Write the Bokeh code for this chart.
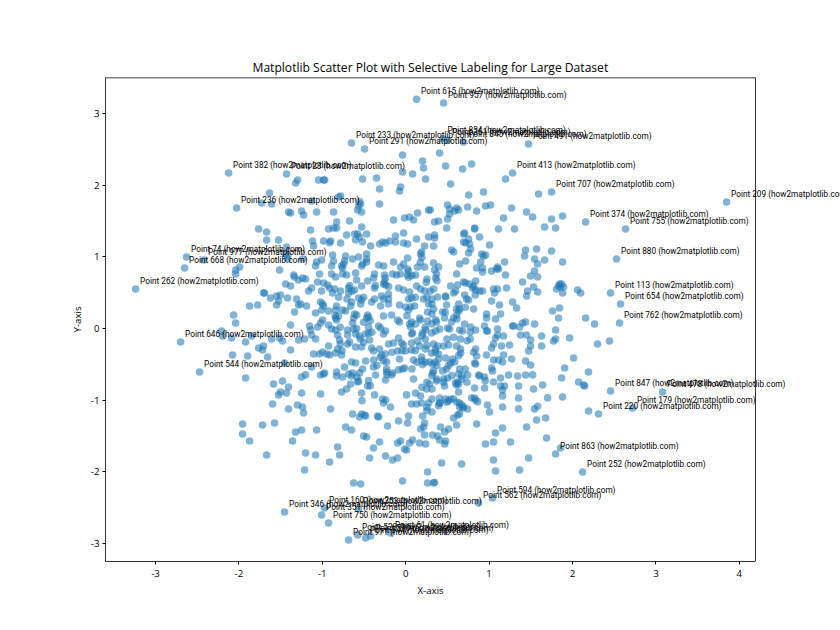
from bokeh.plotting import figure
from bokeh.models import ColumnDataSource, FixedTicker, Span, Title
from bokeh.core.properties import value
from bokeh.embed import file_html
from bokeh.resources import INLINE

TITLE = "Matplotlib Scatter Plot with Selective Labeling for Large Dataset"
X_LABEL = "X-axis"
Y_LABEL = "Y-axis"
X_TICKS = [-3, -2, -1, 0, 1, 2, 3, 4]
Y_TICKS = [-3, -2, -1, 0, 1, 2, 3]

label_ids = [615, 957, 834, 361, 845, 491, 233, 291, 382, 23, 236, 413, 707, 209, 374, 755, 880, 74, 977, 668, 262, 113,
             654, 762, 646, 544, 847, 478, 179, 220, 863, 252, 594, 562, 160, 346, 351, 353, 750, 528, 971, 344, 590, 61]
label_x = [.13, .454, .446, .502, .694, 1.473, -.65, -.494, -2.124, -1.429, -2.028, 1.281, 1.749, 3.847, 2.157, 2.636, 2.528,
           -2.628, -2.424, -2.652, -3.239, 2.456, 2.576, 2.564, -2.70, -2.472, 2.456, 3.079, 2.72, 2.312, 1.797, 2.121, 1.041,
           .873, -.973, -1.453, -1.009, -.565, -.925, -.577, -.685, -.481, -.421, -.182]
label_y = [3.20, 3.148, 2.651, 2.628, 2.604, 2.576, 2.59, 2.507, 2.172, 2.158, 1.683, 2.172, 1.907, 1.767, 1.488, 1.39, .972,
           1.0, .958, .847, .554, .498, .344, .079, -.186, -.605, -.87, -.884, -1.107, -1.191, -1.749, -2.0, -2.363, -2.432,
           -2.503, -2.558, -2.6, -2.517, -2.712, -2.879, -2.949, -2.921, -2.893, -2.851]

upper_left = [(-.038,2.423),(.202,2.339),(.214,2.241),(-.038,2.186),(.082,2.158),(-1.297,2.074),(-1.321,2.032),(-1.045,2.074),
(-.985,2.074),(-.973,2.074),(-.517,2.088),(-.35,2.102),(.238,2.088),(-.314,1.949),(-.062,1.976),(-.074,1.921),(-1.633,1.893),
(-.781,1.851),(-.805,1.837),(-1.728,1.753),(-1.609,1.739),(-1.129,1.781),(-.553,1.772),(-.541,1.739),(-.565,1.711),(-.314,1.739),
(-.577,1.655),(-.529,1.628),(.274,1.655),(-1.405,1.628),(-1.381,1.614),(-1.249,1.642),(-1.225,1.586),(-1.069,1.628),(-.865,1.628),
(.142,1.614),(.046,1.558),(-.014,1.544),(.094,1.516),(-.146,1.516),(-.673,1.502),(-.829,1.488),(-.529,1.418),(-.829,1.404),
(-.865,1.404),(-.925,1.39),(-1.141,1.376),(-1.764,1.39),(-1.668,1.349),(-1.668,1.237),(-1.525,1.237),(-1.117,1.223),(-.985,1.223),
(-.901,1.223),(-.913,1.2),(-.781,1.195),(-.709,1.307),(-.613,1.321),(-.577,1.321),(-.553,1.279),(-.469,1.321),(-.601,1.237),
(-.517,1.209),(-.026,1.335),(-.122,1.293),(-.194,1.223),(-.278,1.209),(-.242,1.195),(-.314,1.181),(-.122,1.209),(.13,1.251),
(.274,1.279),(-.026,1.195),(.022,1.181),(.226,1.153),(-1.429,1.139),(-1.105,1.153),(-.421,1.153)]

upper_right = [(.406,2.451),(.478,2.269),(.682,2.228),(.79,2.297),(1.197,2.088),(.538,2.018),(.754,1.865),(.933,1.907),(1.593,1.879),
(.502,1.725),(.526,1.669),(.61,1.683),(.634,1.655),(.586,1.642),(.742,1.697),(.85,1.642),(.957,1.711),(1.017,1.725),(1.269,1.683),
(1.449,1.628),(1.521,1.558),(1.881,1.572),(1.749,1.53),(.526,1.6),(.502,1.53),(.394,1.502),(.346,1.488),(1.173,1.544),(1.665,1.418),
(1.797,1.404),(1.305,1.39),(1.113,1.39),(.49,1.404),(.826,1.404),(.826,1.39),(.694,1.321),(.706,1.335),(.886,1.279),(.754,1.251),
(.694,1.209),(.718,1.195),(.766,1.181),(1.005,1.167),(.346,1.307),(.346,1.265),(.334,1.153),(.294,1.655)]

middle_right = [(1.437,1.098),(1.569,1.112),(1.749,1.084),(1.425,1.014),(1.545,.972),(1.665,.958),(1.881,.93),(1.581,.902),(1.185,.93),
(.778,1.112),(.754,1.056),(.55,1.098),(.574,1.07),(.91,1.042),(.933,1.014),(.957,1.028),(.718,.944),(.646,.902),(.898,.93),(.85,.847),
(.921,.847),(.921,.791),(1.029,.805),(1.101,.861),(1.089,.833),(1.113,.833),(1.197,.749),(.61,.763),(.334,.916),(.394,.861),(.346,.819),
(.37,.763),(.358,.707),(1.545,.805),(1.497,.735),(1.581,.721),(1.401,.651),(1.533,.581),(1.461,.526),(1.581,.512),(1.449,.456),(1.209,.568),
(1.053,.554),(1.101,.554),(1.065,.498),(.538,.595),(.622,.61),(.694,.651),(.718,.637),(.766,.623),(.838,.665),(.814,.595),(.802,.568),
(.838,.54),(.886,.526),(.921,.526),(.598,.526),(.574,.498),(.334,.554),(.294,.526),(.382,.442),(.478,.456),(.478,.442),(.706,.47),(.73,.414),
(.754,.4),(1.029,.386),(1.125,.33),(1.281,.372),(1.329,.288),(1.761,.247),(1.845,.288),(1.833,.149),(2.157,.149),(2.264,.065),(2.061,.54),
(2.097,.498),(1.809,.554),(1.845,.623),(1.869,.623),(1.833,.595),(1.857,.581),(1.893,.581),(1.881,.498),(.49,.33),(.634,.344),(.61,.274),
(.646,.274),(.634,.247),(.814,.274),(.442,.233),(.466,.149),(.334,.274),(.314,.344),(.314,.205),(.358,.121),(.37,.093),(.574,.149),(.61,.19),
(.55,.093),(.969,.205),(.969,.149),(1.077,.135),(1.137,.205),(.945,.037),(.706,.065),(.778,.023),(.838,-.019),(.682,-.032),(.646,-.019),
(.502,.009),(.526,-.005),(.406,-.005),(.358,-.032),(.31,-.06),(1.101,-.005),(.969,-.032),(.981,-.032),(1.101,-.088),(1.173,-.102),(1.077,-.13),
(1.245,-.228),(1.149,-.242),(1.053,-.214),(1.029,-.27),(1.281,.037),(1.293,.037),(1.365,.023),(1.401,.079),(1.437,.093),(1.545,.065),
(1.377,-.088),(1.449,-.088),(1.497,-.158),(1.497,-.242),(1.629,-.102),(1.629,-.242),(1.473,-.312),(1.797,-.019),(1.797,-.144),(1.773,-.172),
(1.965,-.13),(2.3,-.214),(2.444,-.172),(2.013,-.409),(1.905,-.549),(2.192,-.605),(1.869,-.688),(2.073,-.744),(2.133,-.786),(2.145,-.8),
(1.881,-.953),(1.641,-.786),(1.533,-.842),(1.701,-.967),(1.353,-.967),(1.353,-.8),(1.341,-.66),(1.437,-.646),(1.521,-.646),(1.233,-.646),
(1.137,-.688),(1.053,-.744),(1.137,-.8),(1.185,-.8),(1.161,-.856),(1.161,-.939),(.826,-.828),(.945,-.828),(1.029,-.549),(1.041,-.59),
(.874,-.646),(.886,-.66),(.945,-.674),(.826,-.479),(.838,-.493),(.85,-.381),(.969,-.367),(1.053,-.437),(1.113,-.437),(1.173,-.367),
(1.161,-.465),(1.269,-.423),(1.437,-.451),(1.497,-.507),(.838,-.284),(.658,-.284),(.658,-.339),(.61,-.242),(.514,-.228),(.454,-.242),
(.382,-.242),(.334,-.214),(.358,-.284),(.31,-.339),(.394,-.423),(.478,-.409),(.562,-.423),(.538,-.479),(.586,-.465),(.49,-.563),(.442,-.59),
(.322,-.493),(.322,-.618),(.334,-.59),(.454,-.702),(.502,-.688),(.37,-.702),(.646,-.563),(.742,-.646),(.67,-.702),(.622,-.744),(.598,-.758),
(.61,-.786),(.634,-.772),(.466,-.8),(.634,-.884),(.37,-.73),(.406,-.967),(.478,-.981),(.538,-.981),(.514,-1.009),(.406,-1.037),(.79,-.967),
(.826,-.967),(.838,-.995),(.646,-1.037),(.67,-1.065),(.694,-1.093),(.981,-1.065),(1.161,-1.093),(1.353,-1.12),(1.545,-1.12),(1.581,-1.084)]

middle_left = [(-1.992,.861),(-2.04,.819),(-2.04,.763),(-1.513,.819),(-1.417,1.014),(-1.441,1.042),(-1.417,.972),(-1.237,.972),(-1.345,.749),
(-1.333,.721),(-1.285,.679),(-1.237,.707),(-1.201,.693),(-1.441,.623),(-1.381,.595),(-1.165,.526),(-1.129,.568),(-1.057,.651),(-1.033,.763),
(-1.081,.874),(-1.069,.93),(-1.009,.958),(-.877,1.028),(-.865,.944),(-.889,.874),(-.889,.763),(-.841,.721),(-.757,.847),(-.733,.944),
(-.721,1.014),(-.769,.874),(-.745,.902),(-.757,.763),(-.709,.749),(-.637,.972),(-.565,1.0),(-.469,1.042),(-.469,.972),(-.517,.902),
(-.529,.874),(-.469,.93),(-.325,.888),(-.265,.874),(-.146,.93),(-.026,.902),(-.062,.861),(.022,.833),(.142,.861),(.226,.861),(.178,1.042),
(.19,1.07),(.022,.986),(-.457,.665),(-.589,.679),(-.601,.777),(-.374,.763),(-.254,.749),(-.158,.763),(-.11,.749),(-.062,.763),(.022,.749),
(.118,.749),(-.386,.707),(-.254,.651),(-.266,.623),(-.242,.609),(-.985,.637),(-.937,.609),(-.913,.568),(-.853,.554),(-1.009,.526),(-.877,.498),
(-.781,.526),(-.685,.568),(-.685,.498),(-.613,.54),(-.529,.595),(-.374,.568),(-.086,.568),(-.026,.54),(.13,.595),(.178,.554),(.226,.526),
(.046,.512),(-.206,.484),(-.29,.456),(-1.705,.498),(-1.693,.498),(-1.621,.428),(-1.549,.456),(-1.501,.47),(-1.417,.428),(-1.525,.386),
(-1.549,.33),(-1.309,.414),(-1.261,.344),(-1.285,.33),(-1.189,.316),(-1.333,.233),(-1.872,.316),(-1.776,.33),(-2.064,.191),(-2.04,.079),
(-2.208,-.032),(-2.196,-.102),(-2.088,-.13),(-1.92,-.186),(-1.848,-.102),(-1.609,-.144),(-1.513,-.13),(-1.477,-.172),(-1.285,-.158),
(-1.213,-.144),(-1.381,.051),(-1.153,.037),(-1.141,-.019),(-1.057,.023),(-.997,.121),(-1.021,.079),(-.925,.051),(-.841,-.019),(-.889,-.005),
(-1.081,.219),(-1.009,.261),(-.925,.247),(-.841,.261),(-.841,.149),(-.805,.177),(-.829,.121),(-.697,-.019),(-.697,-.088),(-.817,-.088),
(-1.081,-.144),(-1.129,-.088),(-.997,.344),(-1.021,.372),(-.985,.316),(-.829,.316),(-.757,.261),(-.721,.247),(-.661,.316),(-.613,.205),
(-.625,.149),(-.637,.079),(-.589,0.0),(-.601,-.074),(-.553,-.102),(-.481,-.074),(-.433,-.158),(-.673,-.186),(-.697,-.214),(-.793,-.158),
(-.817,-.284),(-.769,-.367),(-.841,-.339),(-.925,-.242),(-.997,-.326),(-1.105,-.353),(-1.033,-.353),(-.913,-.367),(-.601,-.256),(-.529,-.256),
(-.409,-.27),(-.314,-.284),(-.386,-.312),(-.29,-.367),(-.206,-.214),(-.146,-.2),(-.086,-.13),(-.05,-.2),(-.026,-.228),(.07,-.2),(.142,-.172),
(-.098,-.312),(-.002,-.312),(.07,-.297),(.166,-.242),(.238,-.284),(.19,-.395),(.094,-.437),(-.074,-.423),(-.23,-.465),(-.386,-.437),
(-.481,-.451),(-.65,-.465),(-.601,-.479),(-.733,-.535),(-.517,-.563),(-.637,-.618),(-.553,-.618),(-.829,-.605),(-.829,-.66),(-.757,-.674),
(-.65,-.66),(-.985,-.632),(-1.021,-.646),(-.973,-.618),(-1.201,-.646),(-1.249,-.674),(-1.129,-.535),(-1.453,-.479),(-1.656,-.395),(-1.896,-.381),
(-2.076,-.367),(-1.764,-.27),(-1.705,-.242),(-1.717,-.297),(-1.381,-.297),(-1.92,-.688),(-1.585,-.772),(-1.477,-.73),(-1.405,-.814),
(-1.501,-.884),(-1.525,-.925),(-1.429,-.898),(-1.249,-.898),(-1.021,-.912),(-1.597,-1.051),(-1.405,-1.121),(-1.297,-1.065),(-1.237,-1.093),
(-.901,-1.121),(-.769,-.884),(-.709,-.842),(-.661,-.772),(-.577,-.744),(-.565,-.73),(-.529,-.898),(-.457,-.8),(-.374,-.925),(-.362,-.646),
(-.386,-.535),(-.242,-.716),(-.23,-.605),(-.278,-.981),(-.242,-.995),(-.266,-1.037),(-.182,-1.093),(.01,-.925),(.07,-1.051),(.118,-.898),
(.178,-.939),(.13,-1.051),(.19,-1.037),(.274,-1.037),(.25,-.842),(.094,-.702),(-.038,-.563),(-.086,-.576),(-.014,-.549),(-.17,-.646),
(-.158,-.618),(-.23,-.563),(.286,-.772),(.202,-.502),(.286,-.465)]

center = [(.07,.428),(.034,.414),(.106,.316),(.058,.302),(-.002,.302),(-.074,.33),(.166,.149),(.178,.121),(.07,.093),(.046,.065),(-.098,.121),
(-.074,.093),(-.17,.191),(-.266,.177),(-.326,.037),(-.302,.009),(-.242,-.032),(-.458,.191),(-.445,.163),(-.469,.149),(-.589,.191),(-.565,.428),
(-.529,.4),(-.541,.344),(-.649,.372),(-.409,.372),(-.374,.414),(-.266,.414),(-.206,.344),(-.302,.316),(.034,.261),(.274,.344),(.262,.233),
(.262,.107),(.082,-.06),(.07,-.074),(.202,-.06),(.238,-.019),(-.445,-.06),(.058,.023),(.118,.065)]

lower_left = [(-1.225,-1.177),(-.637,-1.191),(-.553,-1.233),(-.529,-1.191),(-.494,-1.205),(-.481,-1.219),(-.338,-1.219),(-.325,-1.233),
(-1.956,-1.331),(-1.956,-1.47),(-1.717,-1.345),(-1.573,-1.317),(-1.872,-1.568),(-1.321,-1.442),(-1.249,-1.414),(-1.069,-1.414),(-1.357,-1.568),
(-1.668,-1.763),(-1.201,-1.735),(-1.081,-1.763),(-1.213,-1.972),(-.913,-1.861),(-.817,-1.651),(-.793,-1.763),(-.721,-1.372),(-.65,-1.414),
(-.505,-1.498),(-.47,-1.512),(-.314,-1.582),(-.386,-1.665),(-.433,-1.805),(-.242,-1.777),(-.158,-1.833),(-.098,-1.805),(-.098,-1.596),
(-.062,-1.568),(-.218,-1.358),(-.086,-1.289),(.022,-1.317),(.034,-1.219),(.202,-1.219),(.226,-1.317),(.214,-1.372),(.178,-1.4),(.226,-1.484),
(.046,-1.596),(.082,-1.554),(.166,-1.596),(.238,-1.61),(-.014,-1.679),(.01,-1.693),(.262,-2.0),(-.038,-2.126),(.262,-2.154),(-.625,-2.154),
(-.541,-2.168)]

lower_right = [(2.192,-1.149),(1.857,-1.665),(1.689,-1.526),(1.473,-1.805),(1.365,-1.972),(1.077,-1.986),(1.053,-1.833),(.67,-1.889),(.43,-1.875),
(.346,-2.144),(.334,-2.154),(1.257,-1.582),(1.053,-1.582),(.957,-1.61),(1.077,-1.456),(1.161,-1.386),(1.449,-1.372),(1.677,-1.247),(1.569,-1.275),
(.85,-1.331),(.61,-1.345),(.514,-1.4),(.466,-1.442),(.418,-1.372),(.322,-1.484),(.382,-1.498),(.406,-1.554),(.478,-1.568),(.466,-1.61),
(.574,-1.247),(.622,-1.205),(.646,-1.191),(1.005,-1.163),(.742,-1.121),(.682,-1.107),(.646,-1.093),(.314,-1.163),(.49,-1.028),(.406,-1.042),(.862,-1.019)]

core_upper_left = [(-.937,.577),(-.865,.553),(-.905,.484),(-.765,.507),(-.805,.437),(-.673,.6),(-.645,.521),(-.585,.707),(-.525,.567),(-.505,.437),
(-.565,.414),(-.625,.367),(-.705,.414),(-.405,.391),(-.365,.6),(-.266,.67),(-.246,.6),(-.206,.586),(-.246,.707),(-.286,.391),(-.206,.414),(-.186,.344),
(-.086,.567),(-.026,.54),(.062,.437),(.014,.414),(.114,.437),(.154,.567),(.174,.54),(.254,.693),(.246,.646),(.214,.414),(.254,.437),(.194,.995),
(.175,.926),(.254,.879),(-.166,.763),(-.126,.739),(-.066,.753),(.034,.80),(.074,.739),(.034,.716)]

core_lower_left = [(-.845,.181),(-.805,.158),(-.745,.228),(-.625,.204),(-.605,.135),(-.565,.181),(-.465,.204),(-.445,.158),(-.425,.111),(-.505,.088),
(-.266,.204),(-.186,.181),(.014,.181),(.154,.158),(.174,.135),(-.066,.111),(-.126,.135),(.054,.088),(.074,.042),(.234,.018),(-.346,.042),(-.306,.018),
(-.246,-.005),(-.266,-.075),(-.445,.018),(-.405,-.051),(-.525,-.075),(-.565,-.121),(-.625,-.005),(-.705,-.028),(-.685,-.098),(-.785,.018),(-.845,-.005),
(-.945,.065),(-1.005,.111),(-.685,-.191),(-.645,-.214),(-.785,-.214),(-.805,-.144),(-.605,-.261),(-.505,-.191),(-.405,-.168),(-.545,-.144),(-.206,-.214),
(-.146,-.191),(-.066,-.121),(-.046,-.191),(.074,-.075),(.094,-.051),(.074,-.214),(.194,-.098),(.234,-.144),(.254,-.237),(.014,-.307),(-.046,-.307),
(.114,-.307),(-.405,-.261),(-.365,-.33),(-.326,-.284),(-.246,-.354),(-.166,-.33),(.194,-.447),(.074,-.423),(.134,-.47),(.234,-.47),(-.066,-.423),
(-.206,-.47),(-.306,-.4),(-.346,-.516),(-.266,-.447),(-.985,-.33),(-.945,-.354),(-.865,-.354),(-.785,-.354),(-.765,-.307),(-.925,-.237),(-.026,-.54),
(-.046,-.577),(-.106,-.586),(-.226,-.563),(-.226,-.642),(-.166,-.633),(-.246,-.716),(.074,-.563),(.094,-.703),(-.365,-.53),(-.365,-.642),(-.445,-.726),
(-.505,-.447),(-.605,-.47),(-.645,-.47),(-.525,-.563),(-.545,-.633),(-.565,-.735),(-.665,-.772),(-.705,-.842),(-.765,-.889),(-.425,-.796),(-.485,-.819),
(-.525,-.889),(-.385,-.921),(-.525,-1.005),(-.266,-.982),(-.246,-1.005),(-.186,-1.098),(.014,-.912),(.114,-.889),(.174,-.912),(.194,-.819),(.254,-.842),
(.254,-.749),(.094,-1.051),(.154,-1.075),(.194,-1.028),(.254,-1.098),(.254,-1.144),(-.905,-1.121),(-.645,-1.191),(-.545,-1.214),(-.505,-1.237),
(-.346,-1.228),(.034,-1.214),(-.086,-1.275),(-1.017,-.912),(-.825,-.609),(-.825,-.656),(-.765,-.679),(-.737,-.563),(-.685,-.633),(-.625,-.642),
(-.585,-.679),(-.977,-.633)]

core_upper_right = [(.334,1.298),(.702,1.205),(.782,1.181),(.806,1.112),(.754,1.051),(.554,1.088),(.953,1.019),(.894,.935),(.722,.949),(.854,.846),
(.925,.786),(1.025,.809),(.334,1.135),(.354,.832),(.374,.739),(.374,.67),(.534,.6),(.614,.6),(.594,.521),(.754,.632),(.834,.67),(.814,.567),(.834,.47),
(.894,.54),(.694,.46),(.734,.414),(.474,.446),(.334,.553),(.314,.414),(.494,.33),(.634,.298),(.714,.298),(.814,.288),(.446,.26)]

core_lower_right = [(.354,.111),(.314,.065),(.474,.228),(.634,.228),(.614,.135),(.574,.111),(.694,.065),(.774,.042),(.834,-.028),(.774,-.051),(.774,-.144),
(.734,-.168),(.574,-.121),(.494,-.144),(.354,-.051),(.314,-.075),(.494,.018),(.514,-.005),(.654,-.144),(.314,-.214),(.334,-.261),(.474,-.237),(.514,-.214),
(.434,-.261),(.614,-.237),(.654,-.284),(.654,-.354),(.634,-.377),(.354,-.33),(.394,-.354),(.474,-.423),(.574,-.423),(.314,-.47),(.354,-.47),(.374,-.516),
(.514,-.516),(.334,-.609),(.314,-.656),(.374,-.726),(.434,-.702),(.454,-.749),(.514,-.679),(.554,-.656),(.634,-.633),(.714,-.563),(.674,-.656),(.594,-.749),
(.614,-.772),(.654,-.726),(.734,-.749),(.634,-.889),(.314,-.842),(.314,-.982),(.414,-.982),(.474,-1.005),(.574,-.982),(.614,-1.028),(.654,-1.075),
(.674,-1.121),(.734,-1.121),(.594,-1.191),(.574,-1.237),(.314,-1.168),(.394,-1.075),(.814,-.33),(.874,-.377),(.974,-.363),(.814,-.493),(.874,-.656),
(.953,-.726),(1.053,-.735),(1.033,-.54),(1.061,-.437),(1.153,-.47),(.794,-.967),(.874,-1.014),(.974,-1.075),(1.005,-1.168)]

first_pass = upper_left + upper_right + middle_right + middle_left + center + lower_left + lower_right
second_pass = core_upper_left + core_lower_left + core_upper_right + core_lower_right
merged = list(first_pass)
for px, py in second_pass:
    if not any(abs(px - qx) < 0.03 and abs(py - qy) < 0.03 for qx, qy in merged):
        merged.append((px, py))
plain_x = [pt[0] for pt in merged]
plain_y = [pt[1] for pt in merged]

X_MIN, X_MAX, Y_MIN, Y_MAX = -3.6, 4.194, -3.25, 3.505
LEFT, TOP, BOTTOM = 105, 77, 69
WIDTH, HEIGHT = 840, 630
AXES_W = 650  # visible axes box; the frame runs on to the page edge so labels can overhang it
x_end = X_MIN + (X_MAX - X_MIN) * (WIDTH - LEFT) / AXES_W

p = figure(width=WIDTH, height=HEIGHT, output_backend="svg", toolbar_location=None,
           x_range=(X_MIN, x_end), y_range=(Y_MIN, Y_MAX), title=TITLE,
           y_axis_label=Y_LABEL,
           min_border_left=LEFT, min_border_right=0, min_border_top=TOP, min_border_bottom=BOTTOM)
p.grid.visible = False
p.outline_line_color = None
p.title.align = "left"
p.title.offset = 147
p.title.text_font = "Open Sans"
p.title.text_font_size = "12.1px"
p.title.text_font_style = "normal"
p.title.text_color = "#000000"
p.title.standoff = 4
for ax, ticks in ((p.xaxis[0], X_TICKS), (p.yaxis[0], Y_TICKS)):
    ax.ticker = FixedTicker(ticks=ticks)
    ax.major_label_overrides = {t: str(t) for t in ticks}
    ax.minor_tick_line_color = None
    ax.major_tick_in = 0
    ax.major_tick_out = 3
    ax.major_tick_line_color = "#000000"
    ax.axis_line_color = "#000000"
    ax.axis_line_width = 0.8
    ax.major_label_text_font = "Open Sans"
    ax.major_label_text_font_size = "9.7px"
    ax.major_label_text_color = "#000000"
    ax.axis_label_text_font = "Open Sans"
    ax.axis_label_text_font_size = "9.7px"
    ax.axis_label_text_font_style = "normal"
    ax.axis_label_text_color = "#000000"
    ax.major_label_standoff = 3
    ax.axis_label_standoff = 4
p.xaxis[0].major_label_standoff = 5
p.xaxis[0].bounds = (X_MIN, X_MAX)

# the x-axis title has to centre under the visible box, not under the wider frame
p.add_layout(Title(text=X_LABEL, align="left", offset=312, standoff=4, text_font="Open Sans",
                   text_font_size="9.7px", text_font_style="normal", text_color="#000000"), "below")

# close the box: right and top spines of the axes
p.add_layout(Span(location=X_MAX, dimension="height", line_color="#000000", line_width=0.8))
p.segment(x0=[X_MIN], y0=[Y_MAX], x1=[X_MAX], y1=[Y_MAX], line_color="#000000", line_width=1.6)

all_x = plain_x + label_x
all_y = plain_y + label_y
p.scatter(all_x, all_y, size=7.6, marker="circle", fill_color="#1f77b4", fill_alpha=0.56, line_color=None)

texts = [f"Point {i} (how2matplotlib.com)" for i in label_ids]
src = ColumnDataSource(dict(x=label_x, y=label_y, text=texts))
p.text(x="x", y="y", text="text", source=src, x_offset=4.5, y_offset=-8.2,
       text_font=value("Roboto"), text_font_size=value("8.25px"), text_color="#000000",
       text_baseline="middle", text_align="left")

open("out.html", "w").write(file_html(p, INLINE))
